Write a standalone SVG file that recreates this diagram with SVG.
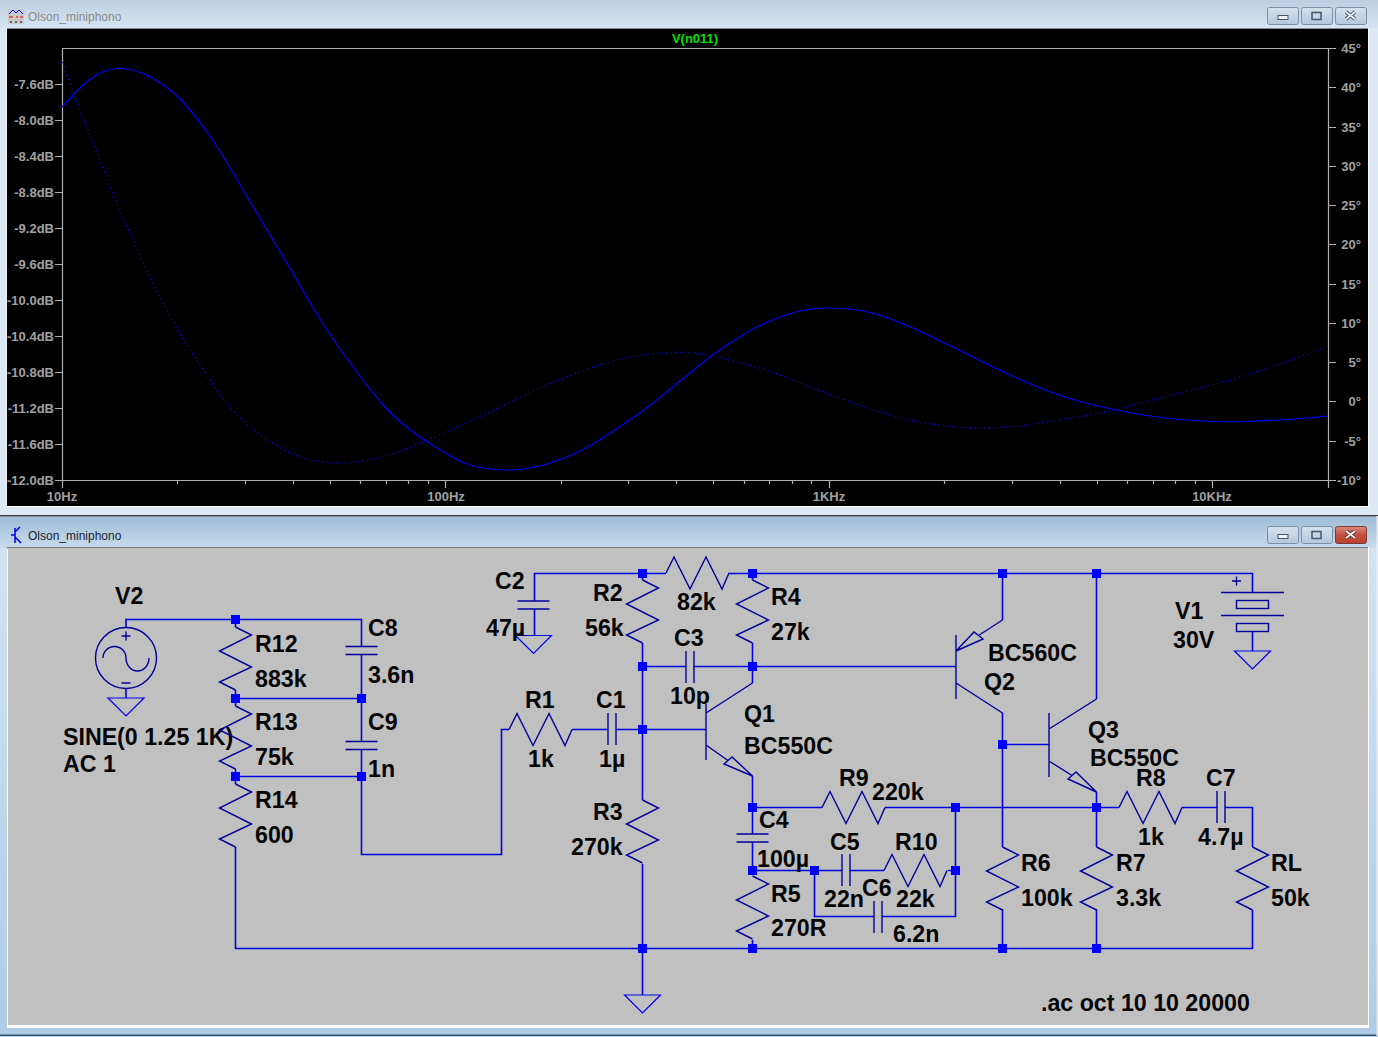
<svg xmlns="http://www.w3.org/2000/svg" width="1378" height="1037" viewBox="0 0 1378 1037">
<style>
.w{fill:none;stroke:#0000e0;stroke-width:1.6}
.s{fill:none;stroke:#00009a;stroke-width:1.4}
.g{fill:none;stroke:#0000ee;stroke-width:1.2}
.t{font:bold 23.2px "Liberation Sans",Arial,sans-serif;fill:#050505}
.a{font:bold 13px "Liberation Sans",Arial,sans-serif;fill:#a0a0a0}
.e{text-anchor:end}
.m{text-anchor:middle}
.ti{font:12px "Liberation Sans",Arial,sans-serif}
.ax{fill:none;stroke:#b0b0b0;stroke-width:1.2}
.btn{stroke:#7c8ea3;stroke-width:1}
.tr{fill:none;stroke:#0000ff;stroke-width:1.2;stroke-linejoin:round}
</style>
<defs>
<linearGradient id="tb1" x1="0" y1="0" x2="0" y2="1"><stop offset="0" stop-color="#bccee0"/><stop offset="1" stop-color="#d6e5f3"/></linearGradient>
<linearGradient id="tb2" x1="0" y1="0" x2="0" y2="1"><stop offset="0" stop-color="#9fbcd8"/><stop offset="1" stop-color="#c8dbeb"/></linearGradient>
<linearGradient id="side" x1="0" y1="0" x2="0" y2="1"><stop offset="0" stop-color="#d4e5f4"/><stop offset="1" stop-color="#aecbe7"/></linearGradient>
<linearGradient id="bt" x1="0" y1="0" x2="0" y2="1"><stop offset="0" stop-color="#d5e1ed"/><stop offset="1" stop-color="#b3c8dc"/></linearGradient>
<linearGradient id="cl" x1="0" y1="0" x2="0" y2="1"><stop offset="0" stop-color="#dc8a7c"/><stop offset="0.5" stop-color="#c4503e"/><stop offset="1" stop-color="#b8402f"/></linearGradient>
<path id="rv" class="s" d="M0 8L16 16L-16 32L16 48L-16 63L0 71"/>
<path id="rh" class="s" d="M0 0L8 -16L24 16L40 -16L56 16L63 0"/>
<path id="cv" class="s" d="M-16 0H16M-16 8H16"/>
<path id="ch" class="s" d="M0 -16V16M8 -16V16"/>
<path id="gnd" class="g" d="M-18 0H18L0 18Z"/>
<rect id="j" x="-4.5" y="-4.5" width="9" height="9" fill="#0000ff"/>
</defs>

<g id="plot-window">
<rect x="0" y="0" width="1378" height="516" fill="#dce9f5"/>
<rect x="0" y="0" width="1378" height="28" fill="url(#tb1)"/>
<rect x="6.5" y="28" width="1362" height="479" fill="#fff"/>
<rect x="7" y="28" width="1361" height="1" fill="#8a8a8a"/>
<rect x="7" y="29" width="1361" height="477" fill="#000"/>
<g id="plot-icon">
<rect x="8" y="9" width="16" height="15" fill="#c8c8c8"/>
<path d="M9 14L13 10L16 13L19 10L23 14" fill="none" stroke="#0000e0"/>
<path d="M9 17H13M16 17H18M20 17H23" stroke="#e00000"/>
<path d="M10 22H12M15 22H17M20 22H22" stroke="#000"/>
</g>
<text class="ti" x="28" y="21" fill="#8a8a8a">Olson_miniphono</text>
<g id="plot-buttons">
<rect class="btn" x="1267.5" y="7.5" width="31" height="17" rx="2" fill="url(#bt)"/>
<rect class="btn" x="1301.5" y="7.5" width="31" height="17" rx="2" fill="url(#bt)"/>
<rect class="btn" x="1335.5" y="7.5" width="31" height="17" rx="2" fill="url(#bt)"/>
<rect x="1278" y="15.5" width="10" height="4" fill="#eef2f6" stroke="#46556a"/>
<rect x="1312" y="12.5" width="9" height="7" fill="none" stroke="#46556a" stroke-width="1.5"/>
<path d="M1346 12L1355 19M1355 12L1346 19" stroke="#46556a" stroke-width="3.5"/>
<path d="M1346 12L1355 19M1355 12L1346 19" stroke="#f2f2f2" stroke-width="1.8"/>
</g>
<path class="ax" d="M62.5 48.5H1328.5V480.5H62.5Z"/>
<path class="ax" d="M55 84.5H62M55 120.5H62M55 156.5H62M55 192.5H62M55 228.5H62M55 264.5H62M55 300.5H62M55 336.5H62M55 372.5H62M55 408.5H62M55 444.5H62M55 480.5H62"/>
<path class="ax" d="M1329 48.5H1336M1329 87.5H1336M1329 127.5H1336M1329 166.5H1336M1329 205.5H1336M1329 244.5H1336M1329 284.5H1336M1329 323.5H1336M1329 362.5H1336M1329 401.5H1336M1329 441.5H1336M1329 480.5H1336"/>
<path class="ax" d="M62.5 480V488M445.5 480V488M829.5 480V488M1212.5 480V488M1328.5 480V488M177.5 480V484M245.5 480V484M293.5 480V484M330.5 480V484M360.5 480V484M386.5 480V484M408.5 480V484M428.5 480V484M561.5 480V484M628.5 480V484M676.5 480V484M713.5 480V484M744.5 480V484M769.5 480V484M792.5 480V484M811.5 480V484M944.5 480V484M1012.5 480V484M1060.5 480V484M1097.5 480V484M1127.5 480V484M1153.5 480V484M1175.5 480V484M1195.5 480V484"/>
<text x="695" y="43" text-anchor="middle" style="font:bold 13px 'Liberation Sans',sans-serif" fill="#00e000">V(n011)</text>
<g class="a e">
<text x="54" y="89">-7.6dB</text><text x="54" y="125">-8.0dB</text><text x="54" y="161">-8.4dB</text><text x="54" y="197">-8.8dB</text><text x="54" y="233">-9.2dB</text><text x="54" y="269">-9.6dB</text><text x="54" y="305">-10.0dB</text><text x="54" y="341">-10.4dB</text><text x="54" y="377">-10.8dB</text><text x="54" y="413">-11.2dB</text><text x="54" y="449">-11.6dB</text><text x="54" y="485">-12.0dB</text>
<text x="1361" y="53">45°</text><text x="1361" y="92">40°</text><text x="1361" y="132">35°</text><text x="1361" y="171">30°</text><text x="1361" y="210">25°</text><text x="1361" y="249">20°</text><text x="1361" y="289">15°</text><text x="1361" y="328">10°</text><text x="1361" y="367">5°</text><text x="1361" y="406">0°</text><text x="1361" y="446">-5°</text><text x="1361" y="485">-10°</text>
</g>
<g class="a m">
<text x="62" y="501">10Hz</text><text x="446" y="501">100Hz</text><text x="829" y="501">1KHz</text><text x="1212" y="501">10KHz</text>
</g>
<path id="magnitude" class="tr" d="M62 107L68.5 100Q75 93 81 87Q87 81 93.5 77Q100 73 105 71Q110 69 116 68.5Q122 68 127.5 69Q133 70 141.5 73Q150 76 161 83.5Q172 91 178.5 97.5Q185 104 192.5 113Q200 122 208.5 134Q217 146 225 159.5Q233 173 241 186.5Q249 200 261 220Q273 240 285 260Q297 280 305 294Q313 308 321.5 321.5Q330 335 340 349Q350 363 361.5 378Q373 393 381.5 403Q390 413 400 421.5Q410 430 418.5 436Q427 442 437 448Q447 454 455 458.5Q463 463 471.5 465.5Q480 468 490 469Q500 470 510 470Q520 470 535 467Q550 464 569 456Q588 448 610.5 433Q633 418 645 409Q657 400 668.5 390.5Q680 381 696.5 367.5Q713 354 730 343Q747 332 757 327Q767 322 780 317Q793 312 805 310Q817 308 828.5 308Q840 308 853.5 309.5Q867 311 883.5 316.5Q900 322 915 329Q930 336 946.5 344Q963 352 980 360.5Q997 369 1013.5 376.5Q1030 384 1046.5 390.5Q1063 397 1080 401.5Q1097 406 1113.5 409.5Q1130 413 1146.5 415.5Q1163 418 1180 419.5Q1197 421 1213.5 421.5Q1230 422 1246.5 421.5Q1263 421 1280 420Q1297 419 1328 416"/>
<path id="phase" class="tr" stroke-dasharray="1.3 3.2" d="M62 62L68.5 79.5Q75 97 81 112.5Q87 128 93.5 144Q100 160 106.5 177.5Q113 195 122.5 216.5Q132 238 142 260Q152 282 159.5 296Q167 310 175 325Q183 340 191.5 352.5Q200 365 208.5 377.5Q217 390 225 401Q233 412 245 422.5Q257 433 268.5 440.5Q280 448 291.5 453.5Q303 459 316.5 461Q330 463 341.5 463Q353 463 368 460Q383 457 395 453Q407 449 418.5 444Q430 439 448.5 431Q467 423 483.5 415Q500 407 521.5 396.5Q543 386 565 377.5Q587 369 605 363.5Q623 358 640 355.5Q657 353 673.5 352.5Q690 352 701.5 354Q713 356 730 360Q747 364 765 370Q783 376 801.5 383.5Q820 391 843.5 399.5Q867 408 887 414Q907 420 918.5 422Q930 424 946.5 426Q963 428 980 428Q997 428 1013.5 426.5Q1030 425 1046.5 422Q1063 419 1080 416.5Q1097 414 1113.5 410Q1130 406 1146.5 401.5Q1163 397 1180 393Q1197 389 1213.5 384.5Q1230 380 1246.5 375Q1263 370 1280 364Q1297 358 1323 348"/>
</g>

<g id="schematic-window">
<rect x="0" y="515" width="1378" height="522" fill="url(#side)"/>
<rect x="0" y="515" width="1378" height="1.5" fill="#3a3a3a"/>
<rect x="0" y="517" width="1378" height="31" fill="url(#tb2)"/>
<rect x="0" y="1034.5" width="1378" height="1.5" fill="#33506a"/>
<rect x="1376.5" y="516" width="1.5" height="520" fill="#e8eef4"/>
<rect x="7" y="547" width="1362" height="481" fill="#fff"/>
<rect x="7" y="547" width="1361" height="1.5" fill="#7c7c7c"/>
<rect x="8" y="548" width="1360" height="477" fill="#c0c0c0"/>
<g id="schematic-icon" fill="none" stroke="#0000ee" stroke-width="1.5">
<path d="M15 528V543M11 535H15M15 532L20 527M15 537L21 543"/>
</g>
<text class="ti" x="28" y="540" fill="#1c2430">Olson_miniphono</text>
<g id="schematic-buttons">
<rect class="btn" x="1267.5" y="526.5" width="31" height="17" rx="2" fill="url(#bt)"/>
<rect class="btn" x="1301.5" y="526.5" width="31" height="17" rx="2" fill="url(#bt)"/>
<rect x="1335.5" y="526.5" width="31" height="17" rx="2" fill="url(#cl)" stroke="#7a3a3a"/>
<rect x="1278" y="534.5" width="10" height="4" fill="#eef2f6" stroke="#46556a"/>
<rect x="1312" y="531.5" width="9" height="7" fill="none" stroke="#46556a" stroke-width="1.5"/>
<path d="M1346 531L1355 538M1355 531L1346 538" stroke="#6a2a2a" stroke-width="3.5"/>
<path d="M1346 531L1355 538M1355 531L1346 538" stroke="#f6f6f6" stroke-width="1.8"/>
</g>
</g>

<g id="connectors">
<path class="w" d="M126 627V619.5H361.5V646M361.5 654V741M361.5 749V854.5H501.5V729.5H509"/>
<path class="w" d="M235.5 619V627M235.5 690V706M235.5 769V784M235.5 847V948.5H1252.5V910"/>
<path class="w" d="M235.5 698.5H361.5M235.5 776.5H361.5"/>
<path class="w" d="M126 689V698"/>
<path class="w" d="M572 729.5H608M616 729.5H706"/>
<path class="w" d="M534.5 601V573.5H666M728 573.5H1252.5V592M534.5 609V636"/>
<path class="w" d="M642.5 573V580M642.5 643V800M642.5 864V995"/>
<path class="w" d="M752.5 573V580M752.5 643V683"/>
<path class="w" d="M642.5 666.5H686M693 666.5H956"/>
<path class="w" d="M752.5 776V834M752.5 842V875M752.5 940V948"/>
<path class="w" d="M752.5 807.5H822M885 807.5H1119M1182 807.5H1217M1225 807.5H1252.5V847"/>
<path class="w" d="M752.5 870.5H842M849 870.5H884M948 870.5H955.5"/>
<path class="w" d="M814.5 870V916.5H874M882 916.5H955.5V807"/>
<path class="w" d="M1002.5 573V620M1002.5 713V847M1002.5 909V948"/>
<path class="w" d="M1002.5 744.5H1049"/>
<path class="w" d="M1096.5 573V699M1096.5 792V847M1096.5 909V948"/>
<path class="w" d="M1252.5 632V651"/>
<use href="#j" x="235.5" y="619.5"/><use href="#j" x="235.5" y="698.5"/><use href="#j" x="361.5" y="698.5"/><use href="#j" x="235.5" y="776.5"/><use href="#j" x="361.5" y="776.5"/>
<use href="#j" x="642.5" y="573.5"/><use href="#j" x="752.5" y="573.5"/><use href="#j" x="1002.5" y="573.5"/><use href="#j" x="1096.5" y="573.5"/>
<use href="#j" x="642.5" y="666.5"/><use href="#j" x="752.5" y="666.5"/><use href="#j" x="642.5" y="729.5"/><use href="#j" x="752.5" y="807.5"/><use href="#j" x="955.5" y="807.5"/><use href="#j" x="1096.5" y="807.5"/>
<use href="#j" x="752.5" y="870.5"/><use href="#j" x="814.5" y="870.5"/><use href="#j" x="955.5" y="870.5"/><use href="#j" x="1002.5" y="744.5"/>
<use href="#j" x="642.5" y="948.5"/><use href="#j" x="752.5" y="948.5"/><use href="#j" x="1002.5" y="948.5"/><use href="#j" x="1096.5" y="948.5"/>
</g>

<g id="V2">
<circle class="s" cx="126" cy="658" r="30.5"/>
<path class="s" d="M103 658A11.5 11.5 0 0 1 126 658A11.5 13 0 0 0 149 658M121.5 636H130.5M121.5 683H130.5M126 631.5V640.5"/>
<use href="#gnd" x="126" y="698"/>
<text class="t" x="115" y="604">V2</text>
<text class="t" x="63" y="745">SINE(0 1.25 1K)</text>
<text class="t" x="63" y="772">AC 1</text>
</g>
<g id="R12"><use href="#rv" x="235.5" y="619"/><text class="t" x="255" y="652">R12</text><text class="t" x="255" y="687">883k</text></g>
<g id="R13"><use href="#rv" x="235.5" y="698"/><text class="t" x="255" y="730">R13</text><text class="t" x="255" y="765">75k</text></g>
<g id="R14"><use href="#rv" x="235.5" y="776"/><text class="t" x="255" y="808">R14</text><text class="t" x="255" y="843">600</text></g>
<g id="C8"><use href="#cv" x="361.5" y="646.5"/><text class="t" x="368" y="636">C8</text><text class="t" x="368" y="683">3.6n</text></g>
<g id="C9"><use href="#cv" x="361.5" y="741.5"/><text class="t" x="368" y="730">C9</text><text class="t" x="368" y="777">1n</text></g>
<g id="R1"><use href="#rh" x="509" y="729.5"/><text class="t" x="525" y="708">R1</text><text class="t" x="528" y="767">1k</text></g>
<g id="C1"><use href="#ch" x="608" y="729"/><text class="t" x="596" y="708">C1</text><text class="t" x="599" y="767">1µ</text></g>
<g id="C2"><use href="#cv" x="533.5" y="601"/><use href="#gnd" x="533.5" y="635.5"/><text class="t" x="495" y="589">C2</text><text class="t" x="486" y="636">47µ</text></g>
<g id="R2"><use href="#rv" x="642.5" y="572"/><text class="t" x="593" y="601">R2</text><text class="t" x="585" y="636">56k</text></g>
<g id="R11"><use href="#rh" x="666" y="573"/><text class="t" x="677" y="610">82k</text></g>
<g id="R4"><use href="#rv" x="752.5" y="572"/><text class="t" x="771" y="605">R4</text><text class="t" x="771" y="640">27k</text></g>
<g id="C3"><use href="#ch" x="686" y="667"/><text class="t" x="674" y="646">C3</text><text class="t" x="670" y="704">10p</text></g>
<g id="R3"><use href="#rv" x="642.5" y="792"/><text class="t" x="593" y="820">R3</text><text class="t" x="571" y="855">270k</text></g>
<g id="Q1">
<path class="s" d="M706 704V760M706 713L752.5 683M706 745L728 760.5M752.5 776L724 764L732 757Z"/>
<text class="t" x="744" y="722">Q1</text><text class="t" x="744" y="754">BC550C</text>
</g>
<g id="Q2">
<path class="s" d="M956 635V699M956 683L1002.5 713M978.5 635.5L1002.5 620M956 651L974 632L983 639Z"/>
<text class="t" x="988" y="661">BC560C</text><text class="t" x="984" y="690">Q2</text>
</g>
<g id="Q3">
<path class="s" d="M1049 713V777M1049 729L1096.5 699M1049 761L1072 775.5M1096.5 792L1068 779L1076 772Z"/>
<text class="t" x="1088" y="738">Q3</text><text class="t" x="1090" y="766">BC550C</text>
</g>
<g id="C4"><use href="#cv" x="752.5" y="834"/><text class="t" x="759" y="828">C4</text><text class="t" x="757" y="867">100µ</text></g>
<g id="R5"><use href="#rv" x="752.5" y="868"/><text class="t" x="771" y="902">R5</text><text class="t" x="771" y="936">270R</text></g>
<g id="R9"><use href="#rh" x="822" y="807.5"/><text class="t" x="839" y="786">R9</text><text class="t" x="872" y="800">220k</text></g>
<g id="C5"><use href="#ch" x="842" y="870"/><text class="t" x="830" y="850">C5</text><text class="t" x="824" y="907">22n</text></g>
<g id="R10"><use href="#rh" x="884" y="870.5"/><text class="t" x="895" y="850">R10</text><text class="t" x="896" y="907">22k</text></g>
<g id="C6"><use href="#ch" x="874" y="917"/><text class="t" x="862" y="896">C6</text><text class="t" x="893" y="942">6.2n</text></g>
<g id="R6"><use href="#rv" x="1002.5" y="839"/><text class="t" x="1021" y="871">R6</text><text class="t" x="1021" y="906">100k</text></g>
<g id="R7"><use href="#rv" x="1096.5" y="839"/><text class="t" x="1116" y="871">R7</text><text class="t" x="1116" y="906">3.3k</text></g>
<g id="R8"><use href="#rh" x="1119" y="807.5"/><text class="t" x="1136" y="786">R8</text><text class="t" x="1138" y="845">1k</text></g>
<g id="C7"><use href="#ch" x="1217" y="807"/><text class="t" x="1206" y="786">C7</text><text class="t" x="1198" y="845">4.7µ</text></g>
<g id="RL"><use href="#rv" x="1252.5" y="839"/><text class="t" x="1271" y="871">RL</text><text class="t" x="1271" y="906">50k</text></g>
<g id="V1">
<path class="s" d="M1221 592.5H1284M1221 615.5H1284M1232 581H1241M1236.5 576.5V585.5"/>
<rect class="s" x="1236.5" y="600.5" width="32" height="8"/>
<rect class="s" x="1236.5" y="623.5" width="32" height="8"/>
<use href="#gnd" x="1252.5" y="651"/>
<text class="t" x="1175" y="619">V1</text><text class="t" x="1173" y="648">30V</text>
</g>
<g id="ground-main"><use href="#gnd" x="642.5" y="995"/></g>
<g id="directive"><text class="t" x="1041" y="1011">.ac oct 10 10 20000</text></g>
</svg>
